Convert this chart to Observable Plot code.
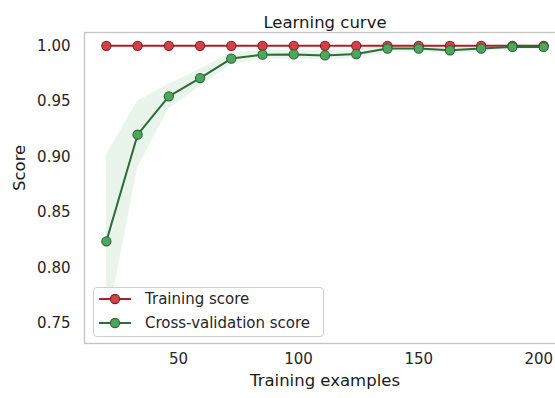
<!DOCTYPE html>
<html>
<head>
<meta charset="utf-8">
<script src="https://cdn.jsdelivr.net/npm/d3@7"></script>
<script src="https://cdn.jsdelivr.net/npm/@observablehq/plot@0.6"></script>
<style>
  html, body { margin: 0; padding: 0; overflow: hidden; background: #fff; }
  #chart { position: relative; width: 555px; height: 398px; overflow: hidden; font-family: "DejaVu Sans", sans-serif; }
  #chart > svg { position: absolute; left: 0; top: 0; max-width: none !important; }
  .legend { position: absolute; left: 93px; top: 287px; width: 231px; height: 50px; box-sizing: border-box;
            border: 1px solid #cfcfcf; border-radius: 4px; background: rgba(255,255,255,0.9);
            font-size: 15px; color: #262626; }
  .legend .row { position: absolute; left: 4px; height: 20px; display: flex; align-items: center; white-space: nowrap; }
  .legend .row svg { display: block; margin-right: 13px; flex: none; }
</style>
</head>
<body>
<div id="chart"></div>
<script>
// Learning curve: training vs. cross-validation score by training-set size
const trainSizes = [20, 33, 46, 59, 72, 85, 98, 111, 124, 137, 150, 163, 176, 189, 202];
const trainScore = [1.0, 1.0, 1.0, 1.0, 1.0, 1.0, 1.0, 1.0, 1.0, 1.0, 1.0, 1.0, 1.0, 1.0, 1.0];
const cvScore = [0.824, 0.920, 0.9545, 0.971, 0.9885, 0.992, 0.9923, 0.9914, 0.9926, 0.9975, 0.9975, 0.996, 0.9975, 0.999, 0.999];
const cvStd = [0.078, 0.030, 0.011, 0.008, 0.005, 0.004, 0.004, 0.004, 0.004, 0.003, 0.003, 0.003, 0.003, 0.002, 0.002];
const yTicks = [0.75, 0.80, 0.85, 0.90, 0.95, 1.00];
const xTicks = [50, 100, 150, 200];
const seriesNames = ["Training score", "Cross-validation score"];

const colors = {
  train: { line: "#a82328", fill: "#cf4247", edge: "#8a1a1e" },
  cv: { line: "#2c6b3a", fill: "#4ea65e", edge: "#2a6636" }
};

const train = trainSizes.map((n, i) => ({ n, score: trainScore[i] }));
const cv = trainSizes.map((n, i) => ({ n, score: cvScore[i], lo: cvScore[i] - cvStd[i], hi: cvScore[i] + cvStd[i] }));

const chart = Plot.plot({
  width: 570,
  height: 398,
  marginLeft: 84,
  marginRight: 5,
  marginTop: 32,
  marginBottom: 55,
  style: { fontFamily: "DejaVu Sans", fontSize: "15px", color: "#262626", background: "#fff", maxWidth: "none" },
  x: { domain: [10.9, 211.1] },
  y: { domain: [0.732, 1.012] },
  marks: [
    Plot.areaY(cv, { x: "n", y1: "lo", y2: "hi", fill: colors.cv.fill, fillOpacity: 0.12 }),
    Plot.line(train, { x: "n", y: "score", stroke: colors.train.line, strokeWidth: 2 }),
    Plot.line(cv, { x: "n", y: "score", stroke: colors.cv.line, strokeWidth: 2 }),
    Plot.dot(train, { x: "n", y: "score", r: 4.6, fill: colors.train.fill, stroke: colors.train.edge, strokeWidth: 1.1 }),
    Plot.dot(cv, { x: "n", y: "score", r: 4.6, fill: colors.cv.fill, stroke: colors.cv.edge, strokeWidth: 1.1 }),
    Plot.frame({ stroke: "#c4c4c4", strokeWidth: 1.3 }),
    Plot.axisX(xTicks, { tickSize: 0, tickPadding: 10, label: null, fontSize: 15 }),
    Plot.axisY(yTicks, { tickSize: 0, tickPadding: 14, label: null, tickFormat: d3.format(".2f"), fontSize: 15 }),
    Plot.text(["Learning curve"], { frameAnchor: "top", dy: -16, fontSize: 16.5, fill: "#1a1a1a" }),
    Plot.text(["Training examples"], { frameAnchor: "bottom", dy: 42, fontSize: 16.5, fill: "#1a1a1a" }),
    Plot.text(["Score"], { frameAnchor: "left", dx: -65, dy: 3, rotate: -90, fontSize: 16.5, fill: "#1a1a1a" })
  ]
});

const root = document.getElementById("chart");
root.appendChild(chart);

// Legend box drawn over the lower-left of the plot area
const legend = document.createElement("div");
legend.className = "legend";
const keys = [colors.train, colors.cv];
seriesNames.forEach((name, i) => {
  const c = keys[i];
  const row = document.createElement("div");
  row.className = "row";
  row.style.top = (i === 0 ? 1 : 25) + "px";
  row.innerHTML =
    `<svg width="34" height="14"><line x1="1" y1="7" x2="33" y2="7" stroke="${c.line}" stroke-width="2"/>` +
    `<circle cx="17" cy="7" r="4.6" fill="${c.fill}" stroke="${c.edge}" stroke-width="1.1"/></svg>` +
    `<span>${name}</span>`;
  legend.appendChild(row);
});
root.appendChild(legend);
</script>
</body>
</html>
